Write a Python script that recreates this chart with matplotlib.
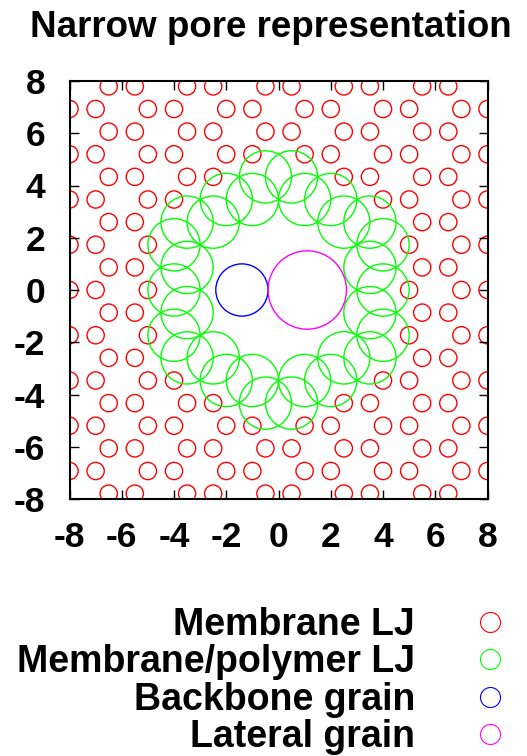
import matplotlib
matplotlib.use("Agg")
import matplotlib.pyplot as plt
from matplotlib.patches import Circle
from matplotlib.lines import Line2D
import numpy as np

plt.rcParams['font.family'] = ['Liberation Sans', 'DejaVu Sans']
plt.rcParams['font.weight'] = 'bold'
plt.rcParams['axes.unicode_minus'] = False

# Membrane LJ sites: honeycomb rows (y levels and x positions)
row_y = [-7.794, -6.928, -6.062, -5.196, -4.330, -3.464, -2.598, -1.732, -0.866, 0.0,
         0.866, 1.732, 2.598, 3.464, 4.330, 5.196, 6.062, 6.928, 7.794]
even_row_x = [-8, -7, -5, -4, -2, -1, 1, 2, 4, 5, 7, 8]
odd_row_x = [-6.5, -5.5, -3.5, -2.5, -0.5, 0.5, 2.5, 3.5, 5.5, 6.5]
pore_cut = 4.7          # membrane sites closer than this to the pore are not membrane LJ
membrane_r = 0.33

# Membrane/polymer LJ sites around the pore
poly_x = [4, -4,
          3.5, -3.5, 3.5, -3.5,
          4, -4, 4, -4,
          3.5, -3.5, 3.5, -3.5,
          2.5, -2.5, 2.5, -2.5,
          2, -2, 2, -2,
          1, -1, 1, -1,
          0.5, -0.5, 0.5, -0.5]
poly_y = [0, 0,
          0.866, 0.866, -0.866, -0.866,
          1.732, 1.732, -1.732, -1.732,
          2.598, 2.598, -2.598, -2.598,
          2.598, 2.598, -2.598, -2.598,
          3.464, 3.464, -3.464, -3.464,
          3.464, 3.464, -3.464, -3.464,
          4.330, 4.330, -4.330, -4.330]
poly_r = 1.0

# polymer grains
backbone = (-1.4, 0.0, 1.0)
lateral = (1.1, 0.0, 1.5)

labels = ["Membrane LJ", "Membrane/polymer LJ", "Backbone grain", "Lateral grain"]
colors = ["#ff0000", "#00ff00", "#0000ff", "#ff00ff"]

W, H = 527, 756
fig = plt.figure(figsize=(W / 100, H / 100), dpi=100)
ax = fig.add_axes([69.5 / W, 1 - 499 / H, 418 / W, 418 / H])

# membrane
for i, y in enumerate(row_y):
    xs = even_row_x if (i - 9) % 2 == 0 else odd_row_x
    for x in xs:
        if np.hypot(x, y) > pore_cut:
            ax.add_patch(Circle((x, y), membrane_r, fill=False, ec=colors[0], lw=1.0))

for x, y in zip(poly_x, poly_y):
    ax.add_patch(Circle((x, y), poly_r, fill=False, ec=colors[1], lw=1.0))

ax.add_patch(Circle(backbone[:2], backbone[2], fill=False, ec=colors[2], lw=1.0))
ax.add_patch(Circle(lateral[:2], lateral[2], fill=False, ec=colors[3], lw=1.0))

ax.set_xlim(-8, 8)
ax.set_ylim(-8, 8)
ax.set_xticks(range(-8, 9, 2))
ax.set_yticks(range(-8, 9, 2))
ax.tick_params(direction='in', length=6.5, width=1.0, top=True, right=True,
               labelsize=25.5)
ax.tick_params(axis='y', pad=17.5)
ax.tick_params(axis='x', pad=16)
for s in ax.spines.values():
    s.set_linewidth(1.5)

fig.text(271 / W, 1 - 36.7 / H, "Narrow pore representation", ha='center',
         va='baseline', fontsize=26.5, fontweight='bold')

# key, right aligned text with the symbol after it
baselines = [635, 672, 710, 747]
for lab, col, b in zip(labels, colors, baselines):
    fig.text(415 / W, 1 - b / H, lab, ha='right', va='baseline',
             fontsize=27, fontweight='bold')
    fig.add_artist(Line2D([490 / W], [1 - (b - 13.5) / H], marker='o', ms=14.4,
                          mfc='none', mec=col, mew=0.8, ls='none',
                          transform=fig.transFigure))

fig.savefig("out.png", dpi=100)
